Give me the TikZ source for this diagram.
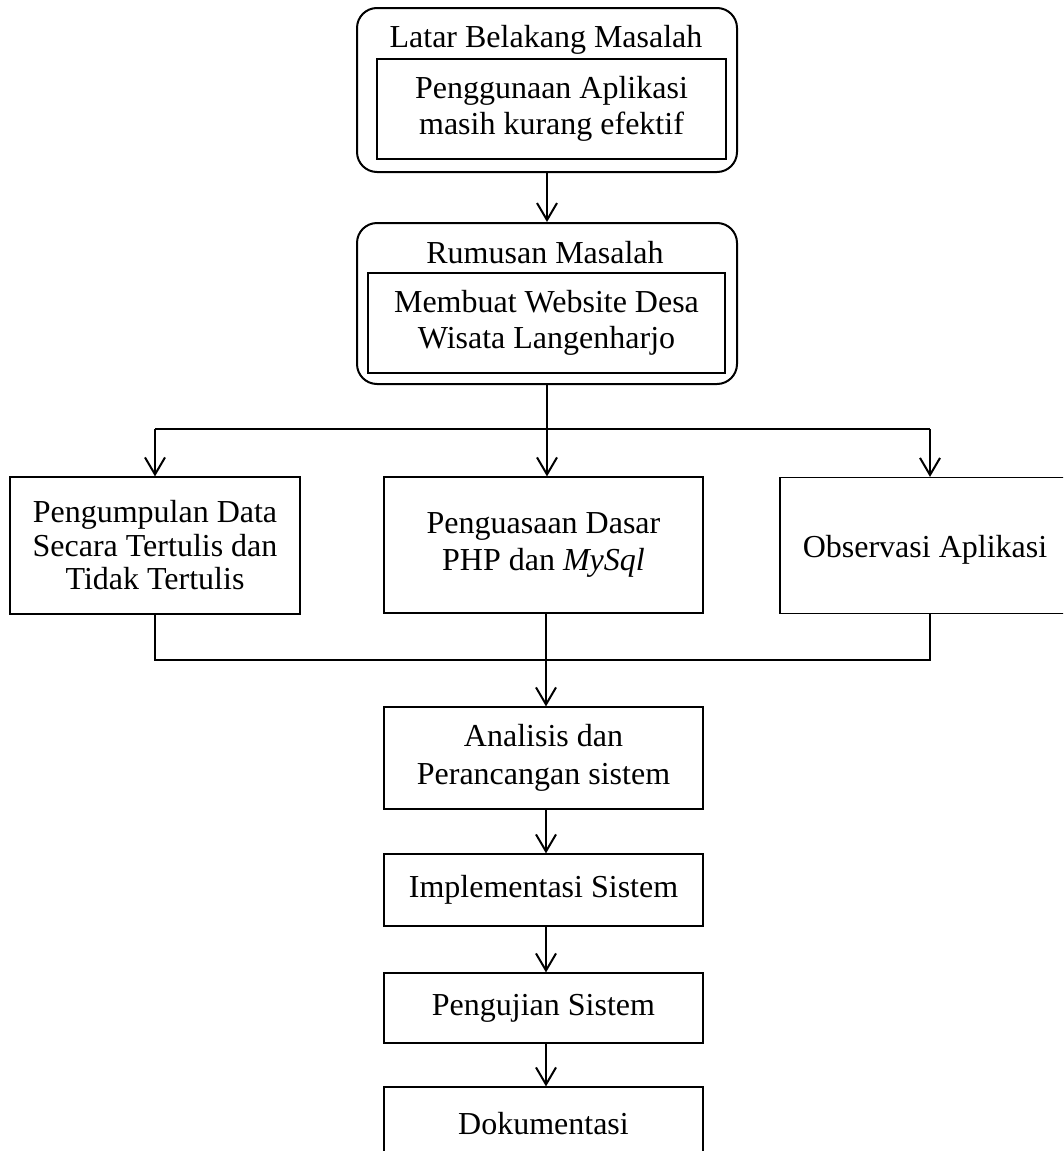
\documentclass[tikz,border=0pt]{standalone}
\usepackage{fontspec}
\setmainfont{Liberation Serif}
\usetikzlibrary{arrows.meta}
\begin{document}
\begin{tikzpicture}[x=1pt,y=-1pt,
  txt/.style={font=\fontsize{32}{36.5}\selectfont, align=center, inner sep=0pt},
  rbox/.style={draw, line width=2pt, rounded corners=20pt, inner sep=0pt},
  sbox/.style={draw, line width=1.2pt, inner sep=0pt, font=\fontsize{32}{36.5}\selectfont, align=center},
  conn/.style={line width=2pt},
  arr/.style={line width=2pt, -{Straight Barb[length=17pt,width=20pt,line width=2pt]}}
]
\useasboundingbox (0,0) rectangle (1063,1151);
\fill[white] (0,0) rectangle (1063,1151);
\begin{scope}
\clip (0,0) rectangle (1063,1151);

% Box 1
\node[rbox, minimum width=380pt, minimum height=164pt] (lb) at (547,90) {};
\node[txt] (lbt) at (546,40) {Latar Belakang Masalah};
\node[sbox, minimum width=349pt, minimum height=100pt] (lbi) at (551.5,109)
  {Penggunaan Aplikasi\\masih kurang efektif};

% Box 2
\node[rbox, minimum width=380pt, minimum height=161pt] (rm) at (547,303.5) {};
\node[txt] (rmt) at (545,253) {Rumusan Masalah};
\node[sbox, minimum width=357pt, minimum height=100pt] (rmi) at (546.5,323)
  {Membuat Website Desa\\Wisata Langenharjo};

% Row of three
\node[sbox, minimum width=290pt, minimum height=137pt,
  font=\fontsize{32}{33.5}\selectfont] (pd) at (155,545.5)
  {Pengumpulan Data\\Secara Tertulis dan\\Tidak Tertulis};
\node[sbox, minimum width=319pt, minimum height=136pt] (pp) at (543.5,545)
  {Penguasaan Dasar\\PHP dan \textit{MySql}};
\node[sbox, minimum width=300pt, minimum height=136pt] (oa) at (930,545.5) {};
\node[txt] (oat) at (925,550) {Observasi Aplikasi};

% Column
\node[sbox, minimum width=319pt, minimum height=102pt,
  font=\fontsize{32}{37.5}\selectfont] (an) at (543.5,758)
  {Analisis dan\\Perancangan sistem};
\node[sbox, minimum width=319pt, minimum height=72pt] (im) at (543.5,890)
  {Implementasi Sistem};
\node[sbox, minimum width=319pt, minimum height=70pt] (pu) at (543.5,1008)
  {Pengujian Sistem};
\node[sbox, minimum width=319pt, minimum height=73pt] (dk) at (543.5,1123.5)
  {Dokumentasi};

% connectors
\coordinate (j1) at (547,429);
\coordinate (j2) at (546,660);
\draw[arr] (lb.south) -- (lb.south |- rm.north);
\draw[conn] (rm.south) -- (j1);
\draw[arr] (j1) -- (j1 |- pp.north);
\draw[conn] (pd.north |- j1) -- (oa.north |- j1);
\draw[arr] (pd.north |- j1) -- (pd.north);
\draw[arr] (oa.north |- j1) -- (oa.north);
\draw[conn] (pd.south) -- (pd.south |- j2) -- (oa.south |- j2) -- (oa.south);
\draw[conn] (j2 |- pp.south) -- (j2);
\draw[arr] (j2) -- (j2 |- an.north);
\draw[arr] (j2 |- an.south) -- (j2 |- im.north);
\draw[arr] (j2 |- im.south) -- (j2 |- pu.north);
\draw[arr] (j2 |- pu.south) -- (j2 |- dk.north);
\end{scope}
\end{tikzpicture}
\end{document}
